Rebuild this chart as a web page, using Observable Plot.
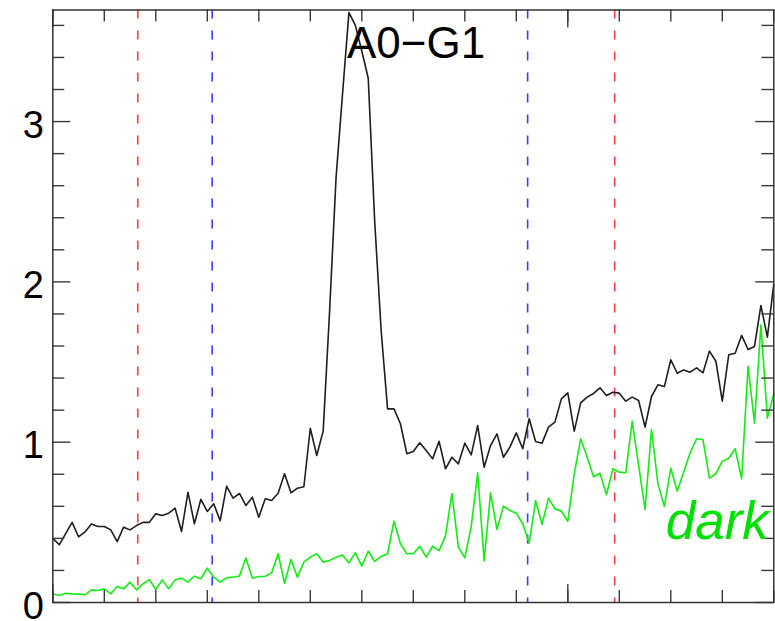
<!DOCTYPE html>
<html>
<head>
<meta charset="utf-8">
<script src="https://cdn.jsdelivr.net/npm/d3@7"></script>
<script src="https://cdn.jsdelivr.net/npm/@observablehq/plot@0.6"></script>
<style>
  html, body { margin: 0; padding: 0; background: #fff; }
  #chart { width: 775px; height: 621px; overflow: hidden; }
</style>
</head>
<body>
<div id="chart"></div>
<script>
// ---- data ----
const xStart = 0;          // x of first sample (axis units, one minor tick = 1)
const xStep = 0.125;       // sample spacing (8 samples per minor tick)

const blackSpec = [
  0.40, 0.36, 0.43, 0.50, 0.41, 0.44, 0.49, 0.474, 0.474, 0.453,
  0.38, 0.47, 0.453, 0.48, 0.50, 0.50, 0.553, 0.543, 0.557, 0.588,
  0.443, 0.688, 0.491, 0.644, 0.568, 0.616, 0.51, 0.726, 0.651, 0.68,
  0.605, 0.657, 0.532, 0.647, 0.636, 0.682, 0.803, 0.684, 0.713, 0.722,
  1.087, 0.917, 1.069, 1.82, 2.65, 3.17, 3.68, 3.60, 3.44, 3.27,
  2.38, 1.70, 1.208, 1.208, 1.115, 0.928, 0.942, 0.996, 0.948, 0.896,
  1.006, 0.834, 0.906, 0.865, 0.994, 0.921, 1.104, 0.844, 0.979, 1.052,
  0.906, 0.969, 1.058, 0.959, 1.146, 1.004, 0.994, 1.094, 1.125, 1.27,
  1.308, 1.069, 1.245, 1.281, 1.304, 1.339, 1.291, 1.312, 1.306, 1.256,
  1.281, 1.26, 1.094, 1.285, 1.358, 1.347, 1.514, 1.43, 1.451, 1.437,
  1.464, 1.433, 1.568, 1.505, 1.256, 1.545, 1.555, 1.666, 1.578, 1.597,
  1.853, 1.655, 1.988
];

const darkSpec = [
  0.054, 0.044, 0.058, 0.054, 0.052, 0.048, 0.079, 0.075, 0.085, 0.054,
  0.10, 0.085, 0.127, 0.079, 0.116, 0.143, 0.081, 0.141, 0.085, 0.141,
  0.152, 0.127, 0.164, 0.148, 0.214, 0.158, 0.127, 0.154, 0.158, 0.165,
  0.277, 0.152, 0.162, 0.164, 0.185, 0.304, 0.12, 0.268, 0.158, 0.252,
  0.283, 0.304, 0.252, 0.262, 0.283, 0.297, 0.247, 0.31, 0.227, 0.32,
  0.256, 0.287, 0.304, 0.507, 0.366, 0.304, 0.304, 0.351, 0.283, 0.351,
  0.324, 0.416, 0.68, 0.345, 0.278, 0.475, 0.809, 0.26, 0.684, 0.455,
  0.601, 0.574, 0.557, 0.491, 0.37, 0.636, 0.487, 0.651, 0.584, 0.57,
  0.507, 0.803, 1.021, 0.907, 0.784, 0.806, 0.672, 0.834, 0.813, 0.809,
  1.131, 0.855, 0.58, 1.079, 0.74, 0.599, 0.838, 0.694, 0.813, 0.934,
  1.021, 1.015, 0.776, 0.803, 0.882, 0.9, 0.959, 0.772, 1.474, 1.119,
  1.732, 1.15, 1.302
];

const redLines = [1.65, 10.91];
const blueLines = [3.095, 9.22];

const xMinorTicks = [0,1,2,3,4,5,6,7,8,9,10,11,12,13,14];
const xMajorTicks = [0, 10];
const yMinorTicks = [0.2,0.4,0.6,0.8,1.2,1.4,1.6,1.8,2.2,2.4,2.6,2.8,3.2,3.4,3.6];
const yMajorTicks = [0, 1, 2, 3];
const yTickLabels = ["0", "1", "2", "3"];

const title = "A0\u2212G1";
const darkLabel = "dark";

// ---- layout ----
const W = 775, H = 621;
const mL = 52.3, mR = 1.7, mT = 9.5, mB = 19;
const plotW = W - mL - mR, plotH = H - mT - mB;
const minorLen = 12, majorLen = 18;
const tickColor = "#3a3a3a";

const blackRows = blackSpec.map((v, i) => ({x: xStart + i * xStep, y: v}));
const darkRows = darkSpec.map((v, i) => ({x: xStart + i * xStep, y: v}));

const chart = Plot.plot({
  width: W,
  height: H,
  marginLeft: mL,
  marginRight: mR,
  marginTop: mT,
  marginBottom: mB,
  x: {domain: [0, 14], axis: null},
  y: {domain: [0, 3.696], axis: null},
  style: {fontFamily: "'Liberation Sans', Arial, Helvetica, sans-serif", background: "#fff", overflow: "visible"},
  marks: [
    // dashed vertical markers
    Plot.ruleX(redLines, {stroke: "#ff3c3c", strokeWidth: 1.6, strokeDasharray: "9,12"}),
    Plot.ruleX(blueLines, {stroke: "#3c3cff", strokeWidth: 1.6, strokeDasharray: "9,12"}),
    // spectra
    Plot.line(darkRows, {x: "x", y: "y", stroke: "#14ec14", strokeWidth: 1.6}),
    Plot.line(blackRows, {x: "x", y: "y", stroke: "#1e1e1e", strokeWidth: 1.6}),
    // inward ticks: left / right
    Plot.ruleY(yMinorTicks, {insetRight: plotW - minorLen, stroke: tickColor, strokeWidth: 1.4}),
    Plot.ruleY(yMajorTicks, {insetRight: plotW - majorLen, stroke: tickColor, strokeWidth: 1.4}),
    Plot.ruleY(yMinorTicks, {insetLeft: plotW - minorLen, stroke: tickColor, strokeWidth: 1.4}),
    Plot.ruleY(yMajorTicks, {insetLeft: plotW - majorLen, stroke: tickColor, strokeWidth: 1.4}),
    // inward ticks: bottom / top
    Plot.ruleX(xMinorTicks, {insetTop: plotH - minorLen, stroke: tickColor, strokeWidth: 1.4}),
    Plot.ruleX(xMajorTicks, {insetTop: plotH - majorLen, stroke: tickColor, strokeWidth: 1.4}),
    Plot.ruleX(xMinorTicks, {insetBottom: plotH - minorLen, stroke: tickColor, strokeWidth: 1.4}),
    Plot.ruleX(xMajorTicks, {insetBottom: plotH - majorLen, stroke: tickColor, strokeWidth: 1.4}),
    // frame
    Plot.frame({stroke: "#333", strokeWidth: 1.5}),
    // y tick labels
    Plot.text(yMajorTicks, {x: 0, y: d => d, text: (d, i) => yTickLabels[i], textAnchor: "end", dx: -9, dy: 4, fontSize: 38, fill: "#000"}),
    // title
    Plot.text([title], {frameAnchor: "top", lineAnchor: "top", dx: 2.7, dy: 17, fontSize: 44, fill: "#000"}),
    // "dark" label
    Plot.text([darkLabel], {frameAnchor: "bottom-right", lineAnchor: "bottom", textAnchor: "end", dx: -5, dy: -64, fontSize: 53, fontStyle: "italic", fill: "#00e000"})
  ]
});

document.getElementById("chart").appendChild(chart);
</script>
</body>
</html>
